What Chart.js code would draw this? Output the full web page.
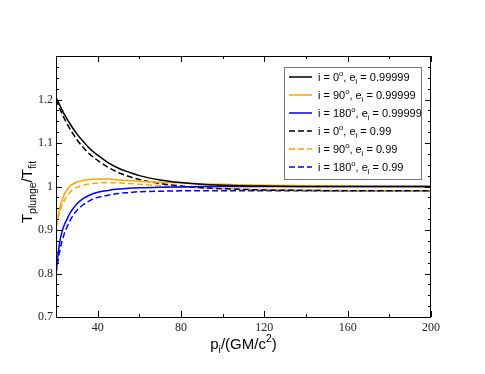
<!DOCTYPE html>
<html>
<head>
<meta charset="utf-8">
<script src="https://cdn.jsdelivr.net/npm/chart.js@4/dist/chart.umd.min.js"></script>
<style>
  html, body { margin: 0; padding: 0; background: #fff; }
  #wrap { width: 485px; height: 374px; }
</style>
</head>
<body>
<div id="wrap"><canvas id="myCanvas" width="485" height="374"></canvas></div>
<script>
// p_i values (GM/c^2)
const pValues = [20, 21, 22, 23, 24, 25, 27, 30, 33, 36, 40, 45, 50, 55, 60, 70, 80, 90, 100, 120, 140, 160, 180, 200];

// T_plunge / T_fit
const i0Solid   = [1.205, 1.195, 1.185, 1.175, 1.166, 1.158, 1.142, 1.121, 1.104, 1.088, 1.072, 1.055, 1.042, 1.033, 1.025, 1.015, 1.009, 1.005, 1.003, 1.001, 1.000, 1.000, 1.000, 1.000];
const i90Solid  = [0.905, 0.935, 0.955, 0.970, 0.982, 0.991, 1.002, 1.010, 1.014, 1.016, 1.017, 1.017, 1.015, 1.014, 1.012, 1.010, 1.008, 1.006, 1.005, 1.003, 1.002, 1.001, 1.000, 1.000];
const i180Solid = [0.800, 0.846, 0.878, 0.898, 0.912, 0.922, 0.941, 0.960, 0.972, 0.980, 0.987, 0.991, 0.994, 0.996, 0.997, 0.998, 0.999, 1.000, 1.000, 1.000, 1.000, 1.000, 1.000, 1.000];
const i0Dash    = [1.200, 1.188, 1.177, 1.166, 1.156, 1.147, 1.130, 1.108, 1.090, 1.075, 1.060, 1.044, 1.032, 1.023, 1.016, 1.007, 1.001, 0.997, 0.995, 0.992, 0.991, 0.990, 0.990, 0.990];
const i90Dash   = [0.905, 0.928, 0.945, 0.958, 0.968, 0.976, 0.988, 0.998, 1.003, 1.006, 1.008, 1.009, 1.008, 1.007, 1.005, 1.002, 0.999, 0.997, 0.995, 0.993, 0.992, 0.991, 0.990, 0.990];
const i180Dash  = [0.800, 0.830, 0.856, 0.876, 0.892, 0.904, 0.924, 0.945, 0.958, 0.967, 0.975, 0.980, 0.984, 0.986, 0.988, 0.989, 0.990, 0.990, 0.990, 0.990, 0.990, 0.990, 0.990, 0.990];

const xTickLabels = [40, 80, 120, 160, 200];
const yTickLabels = [0.7, 0.8, 0.9, 1.0, 1.1, 1.2];

// legend text: [inclination, eccentricity]
const legendIncl = ['0', '90', '180', '0', '90', '180'];
const legendEcc  = ['0.99999', '0.99999', '0.99999', '0.99', '0.99', '0.99'];

const ORANGE = '#FFA500';
const BLUE = '#0000FF';

function pts(ys) {
    return pValues.map((x, k) => ({ x: x, y: ys[k] }));
}

function makeSet(ys, color, dashed) {
    return {
        data: pts(ys),
        borderColor: color,
        backgroundColor: color,
        borderWidth: 1.5,
        borderDash: dashed ? [6, 3] : [],
        pointRadius: 0,
        fill: false,
        cubicInterpolationMode: 'monotone',
    };
}

// draws a run of text pieces with sub/superscripts, starting at x
function drawRich(ctx, parts, x, y, base) {
    let cx = x;
    for (const p of parts) {
        const size = p.small ? base * 0.7 : base;
        ctx.font = size + 'px "Liberation Sans", Arial, sans-serif';
        ctx.fillText(p.t, cx, y + (p.dy || 0));
        cx += ctx.measureText(p.t).width;
    }
    return cx - x;
}
function richWidth(ctx, parts, base) {
    let w = 0;
    for (const p of parts) {
        const size = p.small ? base * 0.7 : base;
        ctx.font = size + 'px "Liberation Sans", Arial, sans-serif';
        w += ctx.measureText(p.t).width;
    }
    return w;
}

const decorPlugin = {
    id: 'decor',
    afterDraw(chart) {
        const ctx = chart.ctx;
        const a = chart.chartArea;
        const xs = chart.scales.x, ys = chart.scales.y;
        ctx.save();
        ctx.strokeStyle = '#000';
        ctx.lineWidth = 1;
        // frame
        ctx.strokeRect(a.left + 0.5, a.top + 0.5, a.right - a.left - 1, a.bottom - a.top);

        // inner ticks on all four sides
        ctx.beginPath();
        for (let v = 20; v <= 200; v += 20) {
            const px = Math.round(xs.getPixelForValue(v)) + 0.5;
            const len = (v % 40 === 0) ? 6 : 3;
            ctx.moveTo(px, a.bottom); ctx.lineTo(px, a.bottom - len);
            ctx.moveTo(px, a.top); ctx.lineTo(px, a.top + len);
        }
        for (let k = 0; k <= 24; k++) {
            const v = 0.7 + k * 0.025;
            const py = Math.round(ys.getPixelForValue(v)) + 0.5;
            const len = (k % 4 === 0) ? 6 : 3;
            ctx.moveTo(a.left, py); ctx.lineTo(a.left + len, py);
            ctx.moveTo(a.right, py); ctx.lineTo(a.right - len, py);
        }
        ctx.stroke();

        // axis titles
        ctx.fillStyle = '#000';
        ctx.textBaseline = 'alphabetic';
        const xt = [{ t: 'p' }, { t: 'i', small: true, dy: 4 }, { t: '/(GM/c' }, { t: '2', small: true, dy: -7 }, { t: ')' }];
        const xw = richWidth(ctx, xt, 15);
        drawRich(ctx, xt, (a.left + a.right) / 2 - xw / 2, 349, 15);

        const yt = [{ t: 'T' }, { t: 'plunge', small: true, dy: 4 }, { t: '/T' }, { t: 'fit', small: true, dy: 4 }];
        const yw = richWidth(ctx, yt, 15);
        ctx.save();
        ctx.translate(32, 192);
        ctx.rotate(-Math.PI / 2);
        drawRich(ctx, yt, -yw / 2, 0, 15);
        ctx.restore();

        // legend box
        const lx = 284, ly = 67, lw = 137, lh = 112;
        ctx.fillStyle = '#fff';
        ctx.fillRect(lx, ly, lw, lh);
        ctx.strokeStyle = '#777';
        ctx.strokeRect(lx + 0.5, ly + 0.5, lw, lh);
        const sets = chart.data.datasets;
        for (let k = 0; k < sets.length; k++) {
            const yy = 77 + k * 18;
            ctx.strokeStyle = sets[k].borderColor;
            ctx.lineWidth = 1.5;
            ctx.setLineDash(sets[k].borderDash);
            ctx.beginPath();
            ctx.moveTo(289, yy); ctx.lineTo(312, yy);
            ctx.stroke();
            ctx.setLineDash([]);
            ctx.fillStyle = '#000';
            drawRich(ctx, [
                { t: 'i = ' + legendIncl[k] },
                { t: 'o', small: true, dy: -5 },
                { t: ', e' },
                { t: 'i', small: true, dy: 3 },
                { t: ' = ' + legendEcc[k] }
            ], 318, yy + 4, 11);
        }
        ctx.restore();
    }
};

const ctx = document.getElementById('myCanvas').getContext('2d');

const myChart = new Chart(ctx, {
    type: 'line',
    data: {
        datasets: [
            makeSet(i0Solid, '#000', false),
            makeSet(i90Solid, ORANGE, false),
            makeSet(i180Solid, BLUE, false),
            makeSet(i0Dash, '#000', true),
            makeSet(i90Dash, ORANGE, true),
            makeSet(i180Dash, BLUE, true),
        ]
    },
    options: {
        responsive: false,
        animation: false,
        layout: {
            padding: { left: 0, top: 56, right: 54, bottom: 0 }
        },
        plugins: {
            legend: { display: false },
            tooltip: { enabled: false },
        },
        scales: {
            x: {
                type: 'linear',
                min: 20,
                max: 200,
                grid: { display: false, drawTicks: false },
                border: { display: false },
                afterBuildTicks: (s) => { s.ticks = xTickLabels.map(v => ({ value: v })); },
                afterFit: (s) => { s.height = 57; },
                ticks: {
                    padding: 4,
                    maxRotation: 0,
                    color: '#222',
                    font: { family: '"Liberation Serif", "Times New Roman", serif', size: 12 },
                }
            },
            y: {
                min: 0.7,
                max: 1.3,
                grid: { display: false, drawTicks: false },
                border: { display: false },
                afterBuildTicks: (s) => { s.ticks = yTickLabels.map(v => ({ value: v })); },
                afterFit: (s) => { s.width = 56; },
                ticks: {
                    padding: 3,
                    color: '#222',
                    font: { family: '"Liberation Serif", "Times New Roman", serif', size: 12 },
                    callback: (v) => (Math.abs(v - 1) < 1e-9 ? '1' : String(Math.round(v * 10) / 10)),
                }
            }
        }
    },
    plugins: [decorPlugin]
});
</script>
</body>
</html>
